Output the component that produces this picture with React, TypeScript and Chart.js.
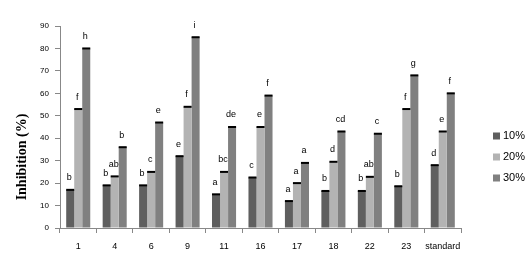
import React, { useEffect, useRef } from "react";
import { Chart, registerables } from "chart.js";

Chart.register(...registerables);

const categories = ["1", "4", "6", "9", "11", "16", "17", "18", "22", "23", "standard"];
const seriesNames = ["10%", "20%", "30%"];
const values10 = [17, 19, 19, 32, 15, 22.5, 12, 16.5, 16.5, 18.6, 28];
const values20 = [53, 23, 25, 54, 25, 45, 20, 29.5, 22.8, 53, 43];
const values30 = [80, 36, 47, 85, 45, 59, 29, 43, 42, 68, 60];
const letters10 = ["b", "b", "b", "e", "a", "c", "a", "b", "b", "b", "d"];
const letters20 = ["f", "ab", "c", "f", "bc", "e", "a", "d", "ab", "f", "e"];
const letters30 = ["h", "b", "e", "i", "de", "f", "a", "cd", "c", "g", "f"];
const yTicks = [0, 10, 20, 30, 40, 50, 60, 70, 80, 90];
const yTitle = "Inhibition (%)";

const colors = ["#5f5f5f", "#b3b3b3", "#808080"];

export default function App() {
  const ref = useRef<HTMLCanvasElement | null>(null);
  useEffect(() => {
    document.body.style.margin = "0";
    const letters = [letters10, letters20, letters30];
    const overlay = {
      id: "overlay",
      afterDatasetsDraw(chart: any) {
        const ctx = chart.ctx;
        ctx.save();
        chart.data.datasets.forEach((ds: any, di: number) => {
          const meta = chart.getDatasetMeta(di);
          meta.data.forEach((bar: any, i: number) => {
            const w = bar.width;
            ctx.fillStyle = "#000";
            ctx.fillRect(bar.x - w / 2, bar.y - 1, w, 2);
            ctx.font = "9px 'Liberation Sans', Arial, sans-serif";
            ctx.textAlign = "center";
            ctx.textBaseline = "middle";
            ctx.fillText(letters[di][i], bar.x - 1, bar.y - 12);
          });
        });
        // legend
        ctx.font = "11px 'Liberation Sans', Arial, sans-serif";
        ctx.textAlign = "left";
        ctx.textBaseline = "middle";
        seriesNames.forEach((n, k) => {
          const y = 136 + k * 21;
          ctx.fillStyle = colors[k];
          ctx.fillRect(493, y - 3.5, 7, 7);
          ctx.fillStyle = "#000";
          ctx.fillText(n, 503, y);
        });
        // y title
        ctx.translate(22, 157);
        ctx.rotate(-Math.PI / 2);
        ctx.font = "bold 14px 'Liberation Serif', 'Times New Roman', serif";
        ctx.textAlign = "center";
        ctx.fillStyle = "#000";
        ctx.fillText(yTitle, 0, 0);
        ctx.restore();
      },
    };
    const chart = new Chart(ref.current!, {
      type: "bar",
      data: {
        labels: categories,
        datasets: [
          { label: seriesNames[0], data: values10, backgroundColor: colors[0] },
          { label: seriesNames[1], data: values20, backgroundColor: colors[1] },
          { label: seriesNames[2], data: values30, backgroundColor: colors[2] },
        ],
      },
      options: {
        animation: false,
        responsive: false,
        layout: { padding: { top: 26, right: 70, left: 0, bottom: 0 } },
        datasets: { bar: { barPercentage: 1, categoryPercentage: 0.66 } },
        plugins: { legend: { display: false }, tooltip: { enabled: false } },
        scales: {
          x: {
            afterFit: (s: any) => { s.height = 43; },
            grid: { drawOnChartArea: false, tickLength: 5, color: "#888" },
            border: { color: "#888" },
            ticks: {
              color: "#000",
              padding: 8,
              maxRotation: 0,
              minRotation: 0,
              autoSkip: false,
              font: { family: "'Liberation Sans', Arial, sans-serif", size: 9 },
            },
          },
          y: {
            min: 0,
            max: 90,
            afterFit: (s: any) => { s.width = 60; },
            afterBuildTicks: (s: any) => { s.ticks = yTicks.map((v) => ({ value: v })); },
            grid: { drawOnChartArea: false, tickLength: 5, color: "#888" },
            border: { color: "#888" },
            ticks: {
              color: "#000",
              padding: 6,
              font: { family: "'Liberation Sans', Arial, sans-serif", size: 8 },
            },
          },
        },
      },
      plugins: [overlay],
    });
    return () => chart.destroy();
  }, []);
  return (
    <div style={{ position: "relative", width: 531, height: 271 }}>
      <canvas ref={ref} width={531} height={271} style={{ display: "block" }} />
    </div>
  );
}
